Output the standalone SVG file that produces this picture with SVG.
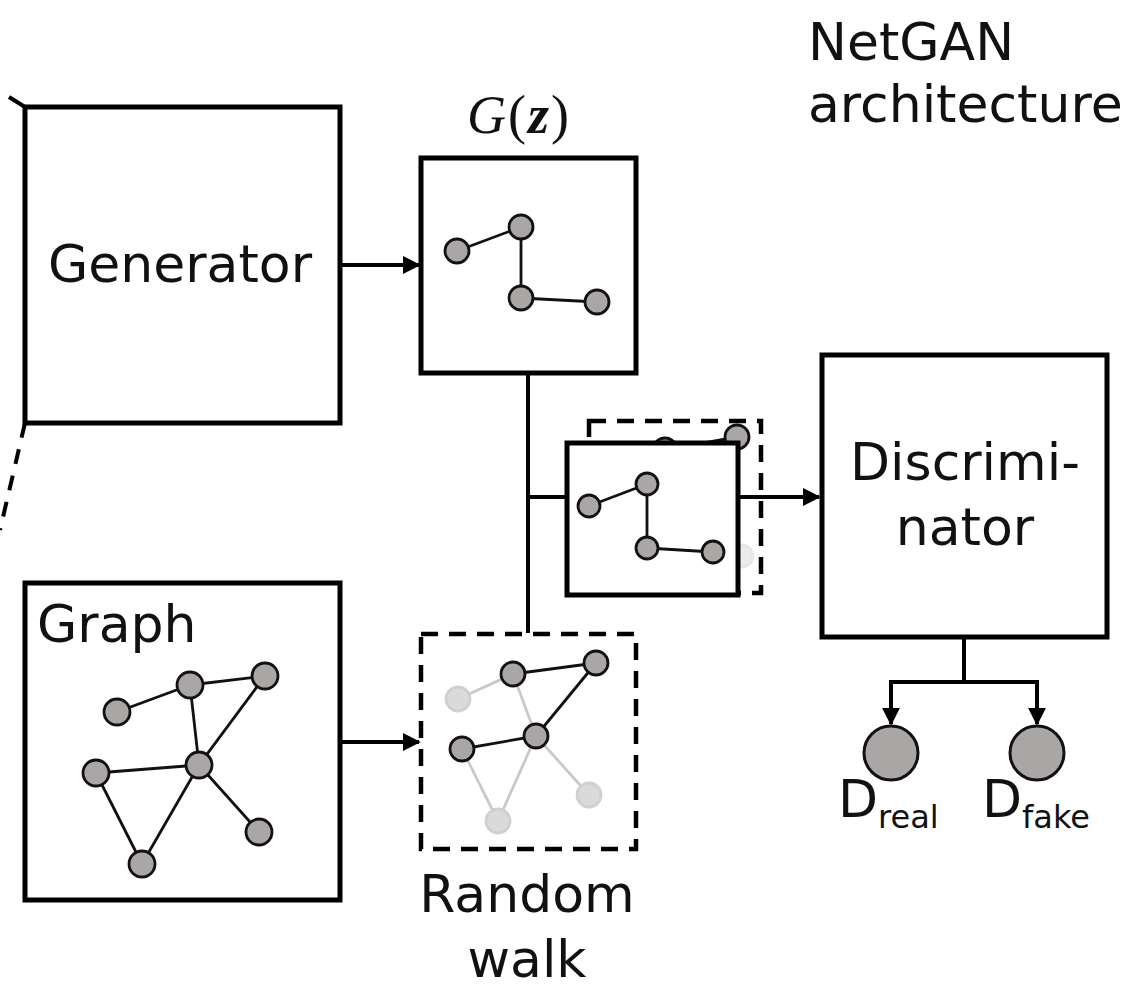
<svg xmlns="http://www.w3.org/2000/svg" width="1148" height="994" viewBox="0 0 1148 994">
  <defs>
    <style>
      .box { fill: #fff; stroke: #000; stroke-width: 5; }
      .dash { fill: none; stroke: #000; stroke-width: 4.5; stroke-dasharray: 17 11; }
      .wire { fill: none; stroke: #000; stroke-width: 4; }
      .edge { stroke: #111; stroke-width: 2.8; }
      .edge-faint { stroke: #c9c9c9; stroke-width: 2.8; }
      .node { fill: #aaa6a6; stroke: #111; stroke-width: 2.8; }
      .node-faint { fill: #dadada; stroke: #d0d0d0; stroke-width: 2.8; }
      .out { fill: #aaa6a6; stroke: #111; stroke-width: 3; }
      .label { font-family: "DejaVu Sans", sans-serif; font-size: 52px; fill: #111; }
      .math { font-family: "Liberation Serif", serif; font-size: 54px; fill: #111; }
    </style>
    <marker id="arrow" viewBox="0 0 10 10" refX="9" refY="5" markerWidth="4.5" markerHeight="4.5" orient="auto" markerUnits="strokeWidth">
      <path d="M0,0 L10,5 L0,10 z" fill="#000"/>
    </marker>
  </defs>

  <!-- title -->
  <g id="title">
    <text class="label" x="808" y="60">NetGAN</text>
    <text class="label" x="808" y="122">architecture</text>
  </g>

  <!-- connectors -->
  <g id="connectors">
    <path class="wire" d="M340,265 H419" marker-end="url(#arrow)"/>
    <path class="wire" d="M528,373 V633"/>
    <path class="wire" d="M528,497 H567"/>
    <path class="wire" d="M738,497 H819" marker-end="url(#arrow)"/>
    <path class="wire" d="M340,742 H419" marker-end="url(#arrow)"/>
    <path class="wire" d="M964,637 V682"/>
    <path class="wire" d="M891,682 H1037"/>
    <path class="wire" d="M891,680 V724" marker-end="url(#arrow)"/>
    <path class="wire" d="M1037,680 V724" marker-end="url(#arrow)"/>
    <!-- perspective lines leaving the generator -->
    <path class="wire" d="M25,107 L9,97"/>
    <path class="wire" d="M25,423 L0,530" stroke-dasharray="15 12"/>
  </g>

  <!-- generator -->
  <g id="generator">
    <rect class="box" x="25" y="107" width="315" height="316"/>
    <text class="label" x="180" y="282" text-anchor="middle">Generator</text>
  </g>

  <!-- generated walk G(z) -->
  <g id="gz">
    <text class="math" x="519" y="133" text-anchor="middle" letter-spacing="2"><tspan font-style="italic">G</tspan>(<tspan font-style="italic" font-weight="bold">z</tspan>)</text>
    <rect class="box" x="421" y="158" width="215" height="215"/>
    <line class="edge" x1="457" y1="251" x2="521" y2="227"/>
    <line class="edge" x1="521" y1="227" x2="521" y2="298"/>
    <line class="edge" x1="521" y1="298" x2="597" y2="302"/>
    <circle class="node" cx="457" cy="251" r="12"/>
    <circle class="node" cx="521" cy="227" r="12"/>
    <circle class="node" cx="521" cy="298" r="12"/>
    <circle class="node" cx="597" cy="302" r="12"/>
  </g>

  <!-- stack of walks fed to the discriminator -->
  <g id="samples">
    <rect class="dash" x="589" y="421" width="172" height="172"/>
    <line class="edge" x1="665" y1="450" x2="737" y2="437"/>
    <circle class="node" cx="665" cy="450" r="12"/>
    <circle class="node" cx="737" cy="437" r="12"/>
    <circle class="node-faint" cx="742" cy="556" r="11" opacity="0.5"/>
    <rect class="box" x="567" y="443" width="171" height="152"/>
    <line class="edge" x1="589" y1="506" x2="647" y2="484"/>
    <line class="edge" x1="647" y1="484" x2="647" y2="548"/>
    <line class="edge" x1="647" y1="548" x2="713" y2="552"/>
    <circle class="node" cx="589" cy="506" r="11"/>
    <circle class="node" cx="647" cy="484" r="11"/>
    <circle class="node" cx="647" cy="548" r="11"/>
    <circle class="node" cx="713" cy="552" r="11"/>
  </g>

  <!-- discriminator -->
  <g id="discriminator">
    <rect class="box" x="822" y="355" width="285" height="282"/>
    <text class="label" x="965" y="480" text-anchor="middle">Discrimi-</text>
    <text class="label" x="965" y="545" text-anchor="middle">nator</text>
  </g>

  <!-- outputs -->
  <g id="d-real">
    <circle class="out" cx="891" cy="753" r="27"/>
    <text class="label" x="838" y="817">D<tspan font-size="32" dy="11">real</tspan></text>
  </g>
  <g id="d-fake">
    <circle class="out" cx="1037" cy="753" r="27"/>
    <text class="label" x="982" y="817">D<tspan font-size="32" dy="11">fake</tspan></text>
  </g>

  <!-- input graph -->
  <g id="graph">
    <rect class="box" x="25" y="583" width="315" height="317"/>
    <text class="label" x="37" y="642">Graph</text>
    <line class="edge" x1="117" y1="712" x2="190" y2="685"/>
    <line class="edge" x1="190" y1="685" x2="265" y2="676"/>
    <line class="edge" x1="190" y1="685" x2="199" y2="765"/>
    <line class="edge" x1="265" y1="676" x2="199" y2="765"/>
    <line class="edge" x1="96" y1="773" x2="199" y2="765"/>
    <line class="edge" x1="96" y1="773" x2="142" y2="864"/>
    <line class="edge" x1="142" y1="864" x2="199" y2="765"/>
    <line class="edge" x1="199" y1="765" x2="259" y2="832"/>
    <circle class="node" cx="117" cy="712" r="13"/>
    <circle class="node" cx="190" cy="685" r="13"/>
    <circle class="node" cx="265" cy="676" r="13"/>
    <circle class="node" cx="96" cy="773" r="13"/>
    <circle class="node" cx="199" cy="765" r="13"/>
    <circle class="node" cx="259" cy="832" r="13"/>
    <circle class="node" cx="142" cy="864" r="13"/>
  </g>

  <!-- sampled random walk -->
  <g id="random-walk">
    <rect class="dash" x="421" y="634" width="215" height="215"/>
    <line class="edge-faint" x1="458" y1="699" x2="513" y2="674"/>
    <line class="edge-faint" x1="513" y1="674" x2="536" y2="736"/>
    <line class="edge-faint" x1="462" y1="749" x2="498" y2="821"/>
    <line class="edge-faint" x1="498" y1="821" x2="536" y2="736"/>
    <line class="edge-faint" x1="536" y1="736" x2="589" y2="795"/>
    <circle class="node-faint" cx="458" cy="699" r="12"/>
    <circle class="node-faint" cx="498" cy="821" r="12"/>
    <circle class="node-faint" cx="589" cy="795" r="12"/>
    <line class="edge" x1="513" y1="674" x2="596" y2="663"/>
    <line class="edge" x1="596" y1="663" x2="536" y2="736"/>
    <line class="edge" x1="536" y1="736" x2="462" y2="749"/>
    <circle class="node" cx="513" cy="674" r="12"/>
    <circle class="node" cx="596" cy="663" r="12"/>
    <circle class="node" cx="536" cy="736" r="12"/>
    <circle class="node" cx="462" cy="749" r="12"/>
    <text class="label" x="527" y="912" text-anchor="middle">Random</text>
    <text class="label" x="527" y="977" text-anchor="middle">walk</text>
  </g>
</svg>
